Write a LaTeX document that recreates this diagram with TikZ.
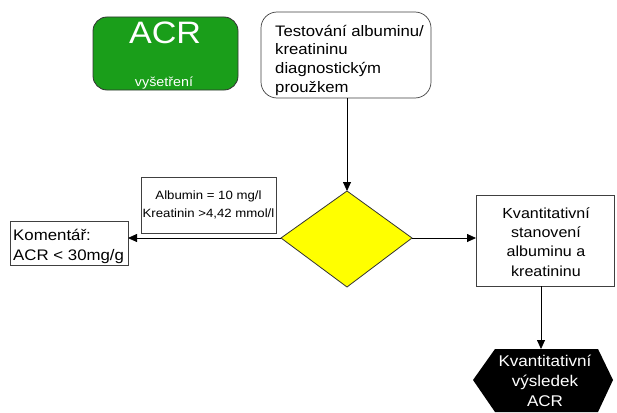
\documentclass[tikz,border=0pt]{standalone}
\usepackage{fontspec}
\setmainfont{Liberation Sans}[FakeStretch=1.1]
\usetikzlibrary{arrows.meta}
\definecolor{acrgreen}{RGB}{26,158,26}
\definecolor{diayellow}{RGB}{255,255,0}
\tikzset{
  conn/.style={draw=black, line width=0.8pt, -{Triangle[length=9pt,width=8pt]}},
  plainbox/.style={draw=black!75, line width=0.7pt, fill=white},
  txt/.style={inner sep=0pt}
}
\begin{document}
\begin{tikzpicture}[x=1pt,y=-1pt]
\useasboundingbox (0,0) rectangle (617,412);
% ACR green box
\draw[fill=acrgreen, draw=black!80, line width=0.8pt, rounded corners=14pt] (93,17) rectangle (238,90);
\node[txt, text=white, font=\fontsize{31}{32}\selectfont, anchor=base] (acr) at (165,44) {ACR};
\node[txt, text=white, font=\fontsize{13}{14}\selectfont, anchor=base] (vys) at (164,86) {vyšetření};
% Testovani box
\draw[plainbox, rounded corners=16pt] (261,12) rectangle (431,98);
\node[txt, align=left, anchor=base west, font=\fontsize{15.2}{18.5}\selectfont] (test) at (275,92) {Testování albuminu/\\kreatininu\\diagnostickým\\proužkem};
\coordinate (testb) at (347,98);
% diamond
\coordinate (dt) at (347,191);
\coordinate (dl) at (281,238);
\coordinate (dr) at (412,238);
\coordinate (db) at (347,287);
\draw[fill=diayellow, draw=black!80, line width=0.8pt] (dt) -- (dr) -- (db) -- (dl) -- cycle;
% condition label
\draw[plainbox] (141,177) rectangle (276,233);
\node[txt, align=center, anchor=base, font=\fontsize{12}{18}\selectfont] (cond) at (208.5,217) {Albumin = 10 mg/l\\Kreatinin >4,42 mmol/l};
% Komentar box
\draw[plainbox] (10,221) rectangle (128,265);
\node[txt, align=left, anchor=base west, font=\fontsize{15.3}{20}\selectfont] (kom) at (13,260) {Komentář:\\ACR < 30mg/g};
\coordinate (komr) at (128,238);
% Kvantitativni stanoveni box
\draw[plainbox] (476,195) rectangle (614,286);
\node[txt, align=center, anchor=base, font=\fontsize{14.6}{19.3}\selectfont] (kv) at (546,276) {Kvantitativní\\stanovení\\albuminu a\\kreatininu};
\coordinate (kvl) at (476,238);
\coordinate (kvb) at (541,286);
% hexagon
\coordinate (ht) at (541,349);
\fill[black] (495,349) -- (598,349) -- (613,380) -- (598,412) -- (495,412) -- (473,380) -- cycle;
\node[txt, text=white, align=center, anchor=base, font=\fontsize{15.5}{20}\selectfont] (hex) at (545,406) {Kvantitativní\\výsledek\\ACR};
% connectors
\draw[conn] (testb) -- (dt);
\draw[conn] (dl) -- (komr);
\draw[conn] (dr) -- (kvl);
\draw[conn] (kvb) -- (ht);
\end{tikzpicture}
\end{document}
